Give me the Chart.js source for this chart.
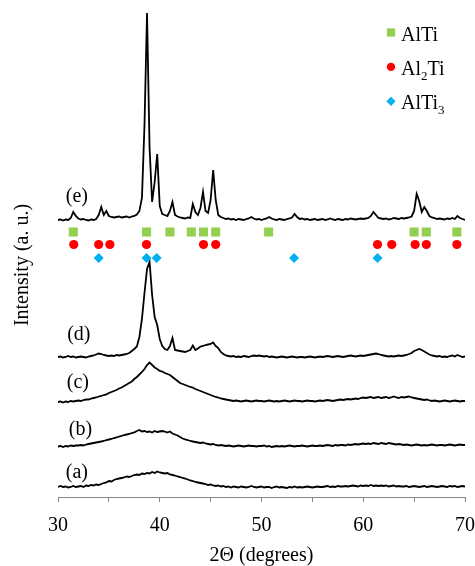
<!DOCTYPE html>
<html>
<head>
<meta charset="utf-8">
<title>XRD patterns</title>
<script src="https://cdn.jsdelivr.net/npm/chart.js@4.4.1/dist/chart.umd.min.js"></script>
<style>
  html, body { margin: 0; padding: 0; background: #fff; }
  #wrap { position: relative; width: 475px; height: 566px; }
</style>
</head>
<body>
<div id="wrap"><canvas id="xrdChart"></canvas></div>
<script>
// 2θ sampling, 30–70° every 0.25°
const twoTheta = [];
for (let i = 0; i <= 160; i++) twoTheta.push(30 + i * 0.25);

// intensities (a. u.) above each pattern's own baseline, one row = 2°
const patternA = [
  0, 1, 0, 0.5, -0.5, 0, 1, 0,
  0.5, 1, 0, 1.5, 1, 2, 1.5, 2.5,
  2, 3, 4, 4.5, 6, 5.5, 7, 8,
  8.5, 9, 9.5, 10.5, 10, 11, 12, 12.5,
  12, 13.5, 13, 14, 13.5, 15, 14, 15.5,
  14.5, 14, 13.5, 14, 12.5, 12, 11.5, 10.5,
  10, 9, 8.5, 7.5, 6.5, 6, 5, 4.5,
  4, 3.5, 3, 2, 2.5, 1.5, 1, 1.5,
  0.5, 1, 0, 0.5, -0.5, 0.5, 0, -0.5,
  0.5, 0, -0.5, 0, 1, 0, -0.5, 0,
  0.5, -0.5, 0, 0, -1, 0, 0.5, -0.5,
  0, -0.5, -1, 0, -0.5, 0.5, -0.5, 0,
  -0.5, 0, 0.5, 0, -0.5, 0, 0.5, 0,
  0, 0.5, 1, 0, 0.5, 0, 1, 0.5,
  0.5, 1, 0.5, 1, 1.5, 1, 0.5, 1.5,
  1, 1.5, 1, 2, 1, 1.5, 1, 1.5,
  1, 1.5, 0.5, 1, 1.5, 0.5, 1, 0.5,
  0.5, 1, 0, 0.5, 1, 0.5, 0, 0.5,
  1, 0, 0.5, 1, 0.5, 0, 0.5, 1,
  0.5, 0, 1, 0.5, 1, 0, 0.5, 1,
  0.5
];
const patternB = [
  -0.5, 0, -1, 0, -0.5, 0.5, 0, 0.5,
  0.5, 1, 0.5, 1.5, 2, 2.5, 3, 3.5,
  4, 4.5, 5, 6, 6.5, 7, 8, 8.5,
  9.5, 10, 11, 11.5, 12, 13, 13.5, 15,
  16, 14.5, 15, 14, 14.5, 13.5, 15, 14,
  14.5, 15, 14.5, 13.5, 14.5, 12.5, 11.5, 10.5,
  9, 7.5, 6.5, 6, 5, 4.5, 4, 3.5,
  3, 3.5, 2.5, 2, 1.5, 2, 1, 0.5,
  1, 0.5, 0, 0.5, 0, -0.5, 0, 0.5,
  0, -0.5, 0, 0.5, 0, 0, -0.5, 0,
  0, 0.5, -0.5, 0, -1, -0.5, 0, -0.5,
  0, -0.5, 0, 0.5, 0, -0.5, 0, 0,
  0.5, 0, -0.5, 0, 0.5, 0, 0, 0.5,
  0, 0.5, 1, 0.5, 0, 1, 0.5, 1,
  1, 0.5, 1.5, 1, 1.5, 2, 1.5, 2,
  2.5, 2, 2.5, 2, 3, 2.5, 2, 3,
  2.5, 2, 3, 2.5, 2, 1.5, 2, 1.5,
  1, 1.5, 1, 0.5, 1, 1.5, 1, 0.5,
  1, 0.5, 1, 1.5, 1, 0.5, 1, 1,
  0.5, 1, 1.5, 1, 0.5, 1, 1.5, 1,
  1
];
const patternC = [
  0, 0.5, -0.5, 0.5, 0, 1, 0.5, 1,
  1.5, 1, 2, 2.5, 2.5, 3.5, 4, 4.5,
  5.5, 6, 7, 7.5, 9, 10, 11, 12,
  13.5, 14.5, 16, 17.5, 19, 20.5, 23, 25,
  27.5, 30, 33, 37, 39.5, 37, 34.5, 33,
  31, 30.5, 29, 28, 27, 25, 23, 21,
  19, 18, 17, 16, 15, 14.5, 13, 12,
  11, 10, 9, 8, 7, 6, 5, 4.5,
  3.5, 3, 2.5, 2, 1.5, 1, 1.5, 1,
  0.5, 1, 1.5, 1, 0.5, 1, 1.5, 1,
  1, 0.5, 1, 1.5, 1, 0.5, 1, 0.5,
  1, 1.5, 1, 0.5, 1, 1.5, 1, 1,
  0.5, 1, 1.5, 1, 1, 0.5, 1, 1.5,
  1, 1.5, 2, 1.5, 1, 1.5, 2, 2.5,
  2, 2.5, 3, 2.5, 3, 3.5, 3, 4,
  4.5, 4, 4.5, 5, 4, 4.5, 5, 4,
  4.5, 5, 4, 4.5, 5.5, 4.5, 4, 5,
  4.5, 5, 5.5, 4.5, 4, 3.5, 3, 2.5,
  2, 2.5, 1.5, 1, 1.5, 1, 0.5, 1,
  1.5, 1, 0.5, 1, 1.5, 1, 0.5, 1,
  1
];
const patternD = [
  0, 0.5, -0.5, 0, 1, 0, 0.5, -0.5,
  0, 0.5, 0, -0.5, 0.5, 1, 1.5, 2.5,
  3.5, 3, 2, 1.5, 1, 1.5, 1, 2,
  1.5, 2, 2.5, 3, 4, 6, 8, 10.5,
  20, 38, 64, 88, 95, 62, 40, 32,
  18, 11, 8, 7, 11, 19, 7, 6.5,
  6, 5.5, 5, 6, 7, 11.5, 7, 8.5,
  10.5, 11, 12, 12.5, 13, 14.5, 11, 9,
  5, 3, 1.5, 1, 0.5, 1, 0, 0.5,
  0, 1, 0.5, 0, 1, 1.5, 1, 1.5,
  1, 0.5, 1, 0, 0.5, 0, -0.5, 0,
  0.5, 0, -0.5, 0, 0.5, 0, -0.5, 0,
  0, -0.5, 0, 0.5, 0, -0.5, 0, 0.5,
  0, 0.5, 1, 0.5, 0, 0.5, 1, 0.5,
  0, 0.5, 1, 1.5, 1, 0.5, 1, 1.5,
  1, 1.5, 2, 2.5, 3, 3.5, 3, 2,
  1.5, 1, 0.5, 1, 0.5, 1, 1.5, 1,
  1.5, 2, 3, 4, 6, 7, 8, 7,
  5.5, 4, 2.5, 1.5, 1, 0.5, 1, 0,
  0.5, 0, 1, 1.5, 0.5, 2, 1, 0,
  0.5
];
const patternE = [
  0, 0.5, -0.5, 0.5, 0, 2, 8, 4,
  1.5, 0.5, 1, 0, -0.5, 0.5, 0, 1,
  5, 13, 5, 9, 4, 3, 2.5, 3,
  3.5, 2.5, 3, 3.5, 2.5, 3.5, 4, 5.5,
  9, 22, 95, 207, 72, 18, 38, 66,
  14, 6, 5, 4, 9, 18, 5, 3.5,
  2.5, 2, 1.5, 2.5, 2, 16, 8, 5,
  12, 28, 9, 7, 20, 50, 20, 5,
  3, 2, 1, 1.5, 0.5, 1, 0, 1,
  0.5, 0, 1, 1.5, 3, 1.5, 0.5, 1,
  0, 1, 1.5, 3, 1.5, 0.5, 0, 1,
  0.5, 0, 1, 1.5, 2.5, 6, 3, 1,
  1.5, 0.5, 1, 0, 0.5, 1, 0, 0.5,
  1, 0, 0.5, 1.5, 0.5, 0, 1, 0.5,
  0, 1, 0.5, 1.5, 1, 0.5, 1, 1.5,
  1, 1.5, 2, 4, 8, 5, 2, 1.5,
  1, 1.5, 0.5, 1, 2, 1.5, 1, 2,
  1.5, 2, 2.5, 3.5, 9, 26, 19, 8,
  13, 9, 4, 2.5, 2, 1, 1.5, 1,
  0.5, 1.5, 1, 2, 1, 4, 2, 1,
  0
];

// reference reflections (2θ) of each phase
const alTiPeaks = [31.5, 38.7, 41.0, 43.1, 44.3, 45.5, 50.7, 65.0, 66.2, 69.2];
const al2TiPeaks = [31.55, 34.0, 35.1, 38.7, 44.3, 45.5, 61.4, 62.8, 65.1, 66.2, 69.2];
const alTi3Peaks = [34.0, 38.7, 39.7, 53.2, 61.4];

const sampleLabels = ["(a)", "(b)", "(c)", "(d)", "(e)"];
const phaseNames = ["AlTi", "Al2Ti", "AlTi3"];

const FONT = "'Liberation Serif', 'Times New Roman', serif";

// vertical stacking of the patterns and where the label of each sits
const patterns = [patternA, patternB, patternC, patternD, patternE];
const offsets = [10, 51, 95, 140, 277];
const labelPos = [[31.85, 24], [32.2, 67], [31.95, 114], [32.05, 162], [31.85, 300]];

// one row of markers per phase
const phases = [
  { peaks: alTiPeaks, row: 265, style: "rect", radius: 6.4, legendRadius: 5.8, color: "#92D050" },
  { peaks: al2TiPeaks, row: 252.5, style: "circle", radius: 4.6, legendRadius: 4.2, color: "#FF0000" },
  { peaks: alTi3Peaks, row: 239, style: "rectRot", radius: 5, legendRadius: 4.6, color: "#00B0F0" }
];

const markerSets = phases.map((p, i) => ({
  type: "scatter",
  label: phaseNames[i],
  data: p.peaks.map(t => ({ x: t, y: p.row })),
  pointStyle: p.style,
  pointRadius: p.radius,
  pointBackgroundColor: p.color,
  pointBorderWidth: 0,
  showLine: false
}));

const traceSets = patterns.map((vals, i) => ({
  type: "line",
  label: sampleLabels[i],
  data: twoTheta.map((t, j) => ({ x: t, y: vals[j] + offsets[i] })),
  borderColor: "#000",
  borderWidth: 1.8,
  pointRadius: 0,
  tension: 0
}));

// writes a formula with its digits as subscripts, e.g. Al2Ti
function drawFormula(ctx, name, x, y) {
  name.match(/[A-Za-z]+|\d+/g).forEach(part => {
    const sub = /\d/.test(part);
    ctx.font = (sub ? "13px " : "20px ") + FONT;
    ctx.fillText(part, x, sub ? y + 5 : y);
    x += ctx.measureText(part).width;
  });
}

const annotations = {
  id: "annotations",
  afterDraw(chart) {
    const { ctx } = chart;
    const xs = chart.scales.x;
    const ys = chart.scales.y;
    ctx.save();
    ctx.fillStyle = "#000";
    ctx.font = "20px " + FONT;
    ctx.textAlign = "center";
    ctx.textBaseline = "middle";
    sampleLabels.forEach((lab, i) => {
      ctx.fillText(lab, xs.getPixelForValue(labelPos[i][0]), ys.getPixelForValue(labelPos[i][1]));
    });

    ctx.save();
    ctx.translate(23, 265);
    ctx.rotate(-Math.PI / 2);
    ctx.fillText("Intensity (a. u.)", 0, 0);
    ctx.restore();

    // legend
    ctx.textAlign = "left";
    ctx.textBaseline = "alphabetic";
    phases.forEach((p, i) => {
      const cy = 32.5 + i * 34.4;
      ctx.fillStyle = p.color;
      Chart.helpers.drawPoint(ctx, { pointStyle: p.style, radius: p.legendRadius, rotation: 0, borderWidth: 0 }, 391, cy);
      ctx.fillStyle = "#000";
      drawFormula(ctx, phaseNames[i], 401, cy + 8);
    });
    ctx.restore();
  }
};

new Chart(document.getElementById("xrdChart"), {
  data: { datasets: [...markerSets, ...traceSets] },
  options: {
    responsive: true,
    maintainAspectRatio: false,
    animation: false,
    layout: { padding: { top: 7, left: 58, right: 10, bottom: 0 } },
    plugins: { legend: { display: false }, tooltip: { enabled: false } },
    scales: {
      x: {
        type: "linear",
        min: 30,
        max: 70,
        border: { display: true, color: "#868686", width: 1 },
        grid: { drawOnChartArea: false, drawTicks: true, tickLength: 5, color: "#868686" },
        ticks: {
          stepSize: 5,
          autoSkip: false,
          maxRotation: 0,
          padding: 12,
          color: "#000",
          font: { family: FONT, size: 20 },
          callback: v => (v % 10 === 0 ? v : "")
        },
        title: {
          display: true,
          text: "2Θ (degrees)",
          color: "#000",
          font: { family: FONT, size: 20 },
          padding: { top: 0, bottom: -2 }
        },
        afterFit: scale => {
          scale.height = 69;
          // the end labels fit inside the side padding already
          scale.paddingLeft = 0;
          scale.paddingRight = 0;
        }
      },
      y: { display: false, min: 0, max: 490 }
    }
  },
  plugins: [annotations]
});
</script>
</body>
</html>
